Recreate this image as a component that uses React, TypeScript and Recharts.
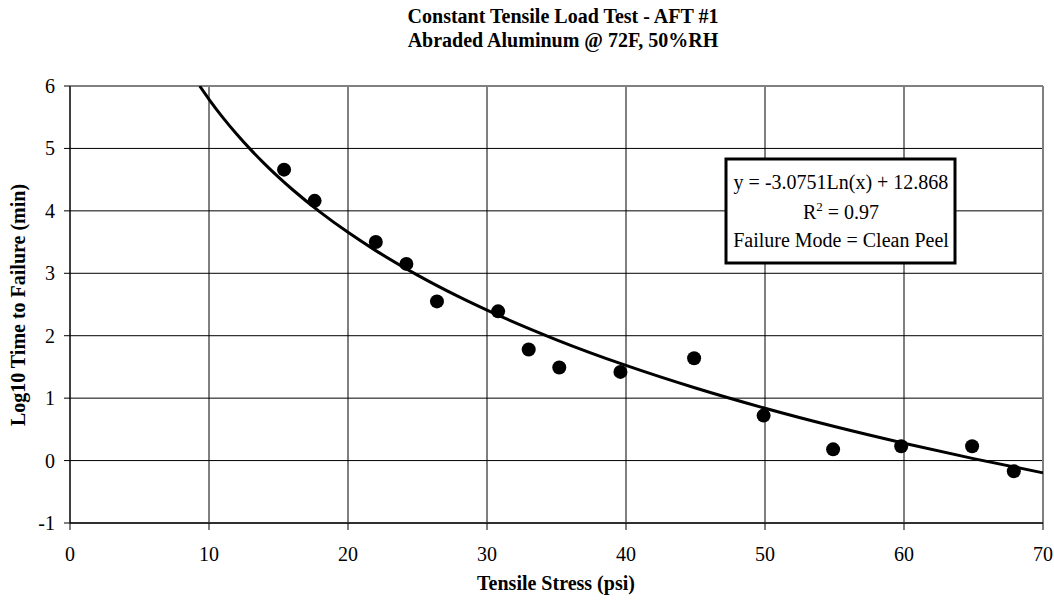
import * as React from 'react'
import {
  ComposedChart,
  Scatter,
  Line,
  XAxis,
  YAxis,
  CartesianGrid,
  ReferenceLine,
} from 'recharts'

// measured points (tensile stress psi, log10 minutes to failure)
const stress = [15.4, 17.6, 22.0, 24.2, 26.4, 30.8, 33.0, 35.2, 39.6, 44.9, 49.9, 54.9, 59.8, 64.9, 67.9]
const logTime = [4.66, 4.16, 3.5, 3.15, 2.55, 2.39, 1.78, 1.49, 1.42, 1.64, 0.72, 0.18, 0.23, 0.23, -0.17]

// log trendline as drawn on the chart
const trendX = [9.33, 10, 11, 12, 13, 14, 15, 16, 18, 20, 22, 25, 28, 30, 35, 40, 45, 50, 55, 60, 65, 70]
const trendY = [6.0, 5.787, 5.494, 5.227, 4.981, 4.753, 4.54, 4.342, 3.98, 3.656, 3.363, 2.97, 2.621, 2.409, 1.935, 1.524, 1.162, 0.838, 0.545, 0.278, 0.031, -0.197]

const xTicks = [0, 10, 20, 30, 40, 50, 60, 70]
const yTicks = [-1, 0, 1, 2, 3, 4, 5, 6]

const titleLines = ['Constant Tensile Load Test - AFT #1', 'Abraded Aluminum @ 72F, 50%RH']
const boxLines = ['y = -3.0751Ln(x) + 12.868', 'Failure Mode = Clean Peel']

const FONT = 'Liberation Serif, Times New Roman, serif'

const points = stress.map((x, i) => ({ x, y: logTime[i] }))
const trend = trendX.map((x, i) => ({ x, y: trendY[i] }))

const Dot = (props: any) => {
  const { cx, cy } = props
  if (cx == null || cy == null) return null
  return <circle cx={cx} cy={cy} r={7} fill="#000" />
}

const XTick = (props: any) => {
  const { x, y, payload } = props
  return (
    <text x={x} y={y + 14} textAnchor="middle" fontSize={20} fontFamily={FONT} fill="#000">
      {payload.value}
    </text>
  )
}

const YTick = (props: any) => {
  const { x, y, payload } = props
  return (
    <text x={x} y={y + 7} textAnchor="end" fontSize={20} fontFamily={FONT} fill="#000">
      {payload.value}
    </text>
  )
}

export default function App() {
  return (
    <div style={{ position: 'absolute', left: 0, top: 0, width: 1054, height: 603, background: '#fff', fontFamily: FONT }}>
      <ComposedChart
        width={1054}
        height={603}
        margin={{ top: 86, right: 11, left: 0, bottom: 50 }}
      >
        <CartesianGrid stroke="#000" strokeWidth={1} />
        <XAxis
          type="number"
          dataKey="x"
          domain={[0, 70]}
          ticks={xTicks}
          height={30}
          stroke="#000"
          tickSize={7}
          tickMargin={17}
          tick={<XTick />}
          allowDataOverflow
        />
        <YAxis
          type="number"
          dataKey="y"
          domain={[-1, 6]}
          ticks={yTicks}
          width={70}
          stroke="#000"
          tickSize={6}
          tickMargin={9}
          tick={<YTick />}
          allowDataOverflow
        />
        <ReferenceLine y={6} stroke="#808080" strokeWidth={2} />
        <ReferenceLine x={70} stroke="#808080" strokeWidth={2} />
        <ReferenceLine y={-1} stroke="#606060" strokeWidth={2} />
        <Line
          data={trend}
          dataKey="y"
          type="monotone"
          stroke="#000"
          strokeWidth={3}
          dot={false}
          activeDot={false}
          isAnimationActive={false}
        />
        <Scatter data={points} dataKey="y" shape={<Dot />} isAnimationActive={false} />
      </ComposedChart>

      <svg width={1054} height={603} style={{ position: 'absolute', left: 0, top: 0, pointerEvents: 'none' }}>
        <text x={563} y={23} textAnchor="middle" fontSize={20} fontWeight="bold" fontFamily={FONT}>
          {titleLines[0]}
        </text>
        <text x={563} y={47} textAnchor="middle" fontSize={20} fontWeight="bold" fontFamily={FONT}>
          {titleLines[1]}
        </text>
        <text x={556} y={590} textAnchor="middle" fontSize={20} fontWeight="bold" fontFamily={FONT}>
          Tensile Stress (psi)
        </text>
        <text
          x={25}
          y={305}
          textAnchor="middle"
          fontSize={20}
          fontWeight="bold"
          fontFamily={FONT}
          transform="rotate(-90 25 305)"
        >
          Log10 Time to Failure (min)
        </text>

        <rect x={726} y={159} width={229} height={104} fill="#fff" stroke="#000" strokeWidth={3} />
        <text x={841} y={189} textAnchor="middle" fontSize={20} fontFamily={FONT}>
          {boxLines[0]}
        </text>
        <text x={841} y={219} textAnchor="middle" fontSize={20} fontFamily={FONT}>
          R<tspan dy={-8} fontSize={13}>2</tspan>
          <tspan dy={8}> = 0.97</tspan>
        </text>
        <text x={841} y={247} textAnchor="middle" fontSize={20} fontFamily={FONT}>
          {boxLines[1]}
        </text>
      </svg>
    </div>
  )
}
